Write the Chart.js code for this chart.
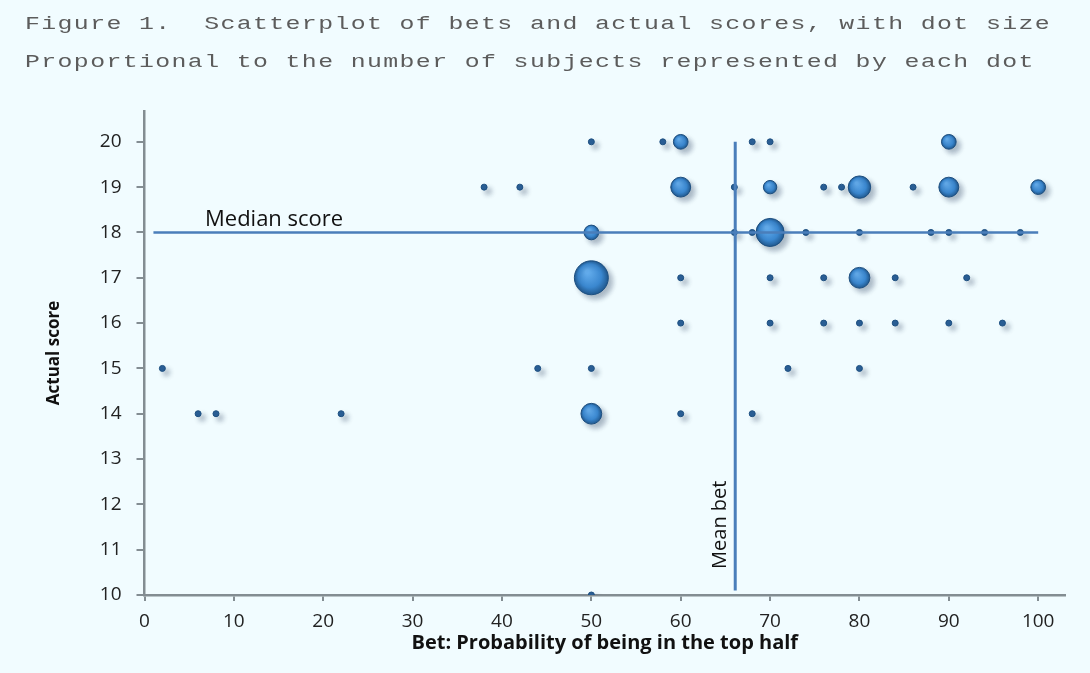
<!DOCTYPE html>
<html>
<head>
<meta charset="utf-8">
<script src="https://cdn.jsdelivr.net/npm/chart.js@4/dist/chart.umd.min.js"></script>
<style>
  html, body { margin: 0; padding: 0; background: #f1fcff; overflow: hidden; }
  #wrap { position: relative; width: 1090px; height: 673px; }
  #cap {
    position: absolute; left: 25px; top: 5px;
    font-family: "Liberation Mono", "DejaVu Sans Mono", monospace;
    font-size: 18px; line-height: 38px; letter-spacing: 1px;
    transform: scaleX(1.38); transform-origin: 0 0;
    color: #5c5c5c; white-space: pre;
  }
  #box { position: absolute; left: 0; top: 0; width: 1090px; height: 673px; }
</style>
</head>
<body>
<div id="wrap">
  <div id="box"><canvas id="c"></canvas></div>
  <div id="cap">Figure 1.  Scatterplot of bets and actual scores, with dot size
Proportional to the number of subjects represented by each dot</div>
</div>
<script>
/* data: one entry per dot */
const betValues     = [50, 58, 60, 68, 70, 90,
                       38, 42, 60, 66, 70, 76, 78, 80, 86, 90, 100,
                       50, 66, 68, 70, 74, 80, 88, 90, 94, 98,
                       50, 60, 70, 76, 80, 84, 92,
                       60, 70, 76, 80, 84, 90, 96,
                       2, 44, 50, 72, 80,
                       6, 8, 22, 50, 60, 68,
                       50];
const scoreValues   = [20, 20, 20, 20, 20, 20,
                       19, 19, 19, 19, 19, 19, 19, 19, 19, 19, 19,
                       18, 18, 18, 18, 18, 18, 18, 18, 18, 18,
                       17, 17, 17, 17, 17, 17, 17,
                       16, 16, 16, 16, 16, 16, 16,
                       15, 15, 15, 15, 15,
                       14, 14, 14, 14, 14, 14,
                       10];
const subjectCounts = [1, 1, 6, 1, 1, 6,
                       1, 1, 11, 1, 5, 1, 1, 14, 1, 11, 6,
                       6, 1, 1, 22, 1, 1, 1, 1, 1, 1,
                       32, 1, 1, 1, 12, 1, 1,
                       1, 1, 1, 1, 1, 1, 1,
                       1, 1, 1, 1, 1,
                       1, 1, 1, 12, 1, 1,
                       1];

const MEDIAN_SCORE = 18;
const MEDIAN_FROM  = 1;
const MEDIAN_TO    = 100;
const MEAN_BET     = 66.1;
const MEAN_FROM    = 10.1;
const MEAN_TO      = 20;

const xTicks = [0, 10, 20, 30, 40, 50, 60, 70, 80, 90, 100];
const yTicks = [10, 11, 12, 13, 14, 15, 16, 17, 18, 19, 20];

const LINE_BLUE = '#4a7eba';
const AXIS_GREY = '#838d92';
const R_PER_SQRT = 3;

const bubbles = betValues.map((b, i) => ({
  x: b, y: scoreValues[i], r: R_PER_SQRT * Math.sqrt(subjectCounts[i])
}));

const dotFill = ctx => {
  const base = '#3a87cf';
  if (!ctx.raw || !ctx.chart.scales.x) return base;
  const c = ctx.chart;
  const px = c.scales.x.getPixelForValue(ctx.raw.x);
  const py = c.scales.y.getPixelForValue(ctx.raw.y);
  const r = ctx.raw.r;
  if (!isFinite(px) || !isFinite(py) || !isFinite(r)) return base;
  if (r < 4) return '#2a5f96';
  const g = c.ctx.createRadialGradient(px - r * 0.25, py - r * 0.35, r * 0.1, px, py, r);
  g.addColorStop(0, '#63acec');
  g.addColorStop(0.65, '#3a87cf');
  g.addColorStop(1, '#21598f');
  return g;
};

// soft drop shadow under the dots
const shadowPlugin = {
  id: 'dotShadow',
  beforeDatasetDraw(chart, args) {
    if (args.meta.type !== 'bubble') return;
    const ctx = chart.ctx;
    ctx.save();
    ctx.shadowColor = 'rgba(40,60,90,0.35)';
    ctx.shadowBlur = 5;
    ctx.shadowOffsetX = 4;
    ctx.shadowOffsetY = 4;
  },
  afterDatasetDraw(chart, args) {
    if (args.meta.type === 'bubble') chart.ctx.restore();
  }
};

// "Median score" / "Mean bet" notes next to the reference lines
const notesPlugin = {
  id: 'notes',
  afterDatasetsDraw(chart) {
    const { ctx, scales: { x, y } } = chart;
    ctx.save();
    ctx.fillStyle = '#111';
    ctx.textAlign = 'center';
    ctx.textBaseline = 'alphabetic';
    ctx.font = '22px "Open Sans"';
    ctx.fillText('Median score', x.getPixelForValue(14.5), y.getPixelForValue(MEDIAN_SCORE) - 6);
    ctx.font = '20px "Open Sans"';
    ctx.translate(x.getPixelForValue(MEAN_BET) - 9, y.getPixelForValue(11.55));
    ctx.rotate(-Math.PI / 2);
    ctx.fillText('Mean bet', 0, 0);
    ctx.restore();
  }
};

const tickFont = { family: 'Open Sans', size: 19 };

new Chart(document.getElementById('c'), {
  type: 'bubble',
  data: {
    datasets: [
      { type: 'line', data: [{ x: MEDIAN_FROM, y: MEDIAN_SCORE }, { x: MEDIAN_TO, y: MEDIAN_SCORE }],
        borderColor: LINE_BLUE, borderWidth: 2.5, pointRadius: 0, fill: false, order: 0 },
      { type: 'line', data: [{ x: MEAN_BET, y: MEAN_FROM }, { x: MEAN_BET, y: MEAN_TO }],
        borderColor: LINE_BLUE, borderWidth: 3, pointRadius: 0, fill: false, order: 0 },
      { type: 'bubble', data: bubbles, backgroundColor: dotFill,
        borderColor: '#1d4f80', borderWidth: 1, order: 1 }
    ]
  },
  options: {
    responsive: true,
    maintainAspectRatio: false,
    animation: false,
    events: [],
    layout: { padding: { left: 0, top: 111, right: 25, bottom: 0 } },
    plugins: { legend: { display: false }, tooltip: { enabled: false } },
    scales: {
      x: {
        type: 'linear', min: 0, max: 103,
        afterBuildTicks: s => { s.ticks = xTicks.map(v => ({ value: v })); },
        afterFit: s => { s.height = 78; },
        grid: { drawOnChartArea: false, drawTicks: true, tickLength: 6, color: AXIS_GREY, lineWidth: 2 },
        border: { color: AXIS_GREY, width: 2.5 },
        ticks: { color: '#222', font: tickFont, padding: 9, maxRotation: 0, autoSkip: false },
        title: { display: true, text: 'Bet: Probability of being in the top half',
          color: '#111', font: { family: 'Open Sans', size: 20, weight: 'bold' },
          padding: { top: 0, bottom: 18 } }
      },
      y: {
        type: 'linear', min: 10, max: 20.68,
        afterBuildTicks: s => { s.ticks = yTicks.map(v => ({ value: v })); },
        afterFit: s => { s.width = 144.5; },
        grid: { drawOnChartArea: false, drawTicks: true, tickLength: 8, color: AXIS_GREY, lineWidth: 2 },
        border: { color: AXIS_GREY, width: 2.5 },
        ticks: { color: '#222', font: tickFont, padding: 15, autoSkip: false },
        title: { display: true, text: 'Actual score',
          color: '#111', font: { family: 'Open Sans', size: 17, weight: 'bold' },
          padding: { top: 44, bottom: 0 } }
      }
    }
  },
  plugins: [shadowPlugin, notesPlugin]
});
</script>
</body>
</html>
